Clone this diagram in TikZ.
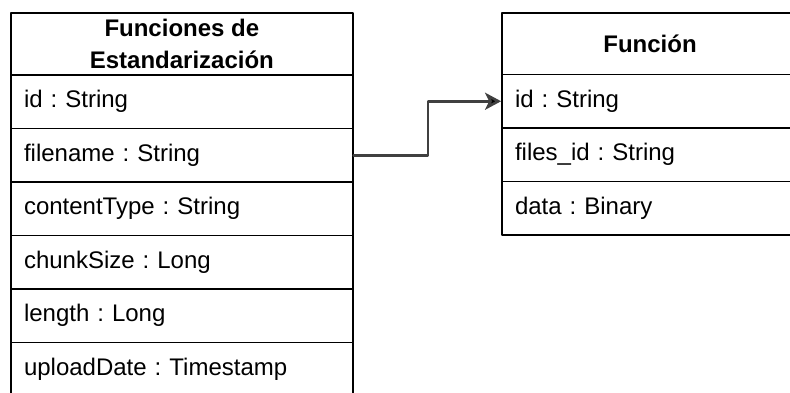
\documentclass[tikz,border=0pt]{standalone}
\usepackage{fontspec}
\setmainfont{Liberation Sans}
\usepackage{tikz}
\usetikzlibrary{arrows.meta}
\frenchspacing

\begin{document}
\begin{tikzpicture}[line cap=round,line join=round,x=1pt,y=1pt,
  head/.style={draw,line width=1.8pt,inner sep=0pt,align=center,font=\fontsize{24}{31.5}\selectfont\bfseries},
  attr/.style={draw,line width=1.8pt,inner xsep=13pt,inner ysep=0pt,minimum height=53.5pt,align=left,font=\fontsize{24}{28}\selectfont},
  link/.style={draw=black!75,line width=2.6pt,-{Stealth[length=16pt,width=17pt,inset=4pt,fill=black]}}]

\useasboundingbox (0,0) rectangle (790,392);
\clip (0,0) rectangle (790,392);

% tabla izquierda
\node[head,minimum width=341.7pt,minimum height=62pt] (fest) at (181.85,348) {Funciones de\\Estandarización};
\node[attr,text width=315.7pt] (fid) at (181.85,290.25) {id : String};
\node[attr,text width=315.7pt] (fname) at (181.85,236.75) {filename : String};
\node[attr,text width=315.7pt] (ctype) at (181.85,183.25) {contentType : String};
\node[attr,text width=315.7pt] (csize) at (181.85,129.75) {chunkSize : Long};
\node[attr,text width=315.7pt] (flen) at (181.85,76.25) {length : Long};
\node[attr,text width=315.7pt] (fdate) at (181.85,22.75) {uploadDate : Timestamp};

% tabla derecha
\node[head,minimum width=296pt,minimum height=61.5pt] (func) at (650,348.25) {Función};
\node[attr,text width=270pt,inner xsep=13pt] (gid) at (650,290.75) {id : String};
\node[attr,text width=270pt,inner xsep=13pt] (gfid) at (650,237.25) {files\_id : String};
\node[attr,text width=270pt,inner xsep=13pt] (gdata) at (650,183.75) {data : Binary};

\draw[link] (fname.east) -- ++(74.3,0) |- (gid.west);
\end{tikzpicture}
\end{document}
